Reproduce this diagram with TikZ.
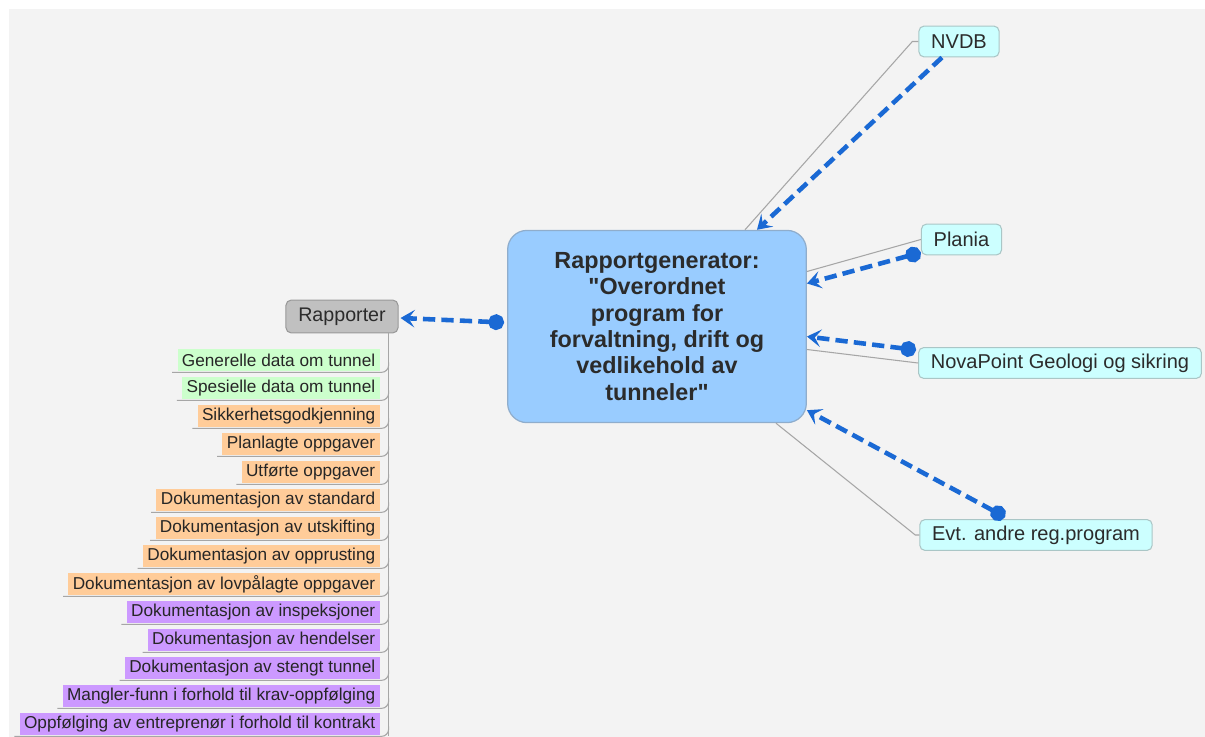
\documentclass[tikz,border=0pt]{standalone}
\usepackage{fontspec}
\setmainfont{Liberation Sans}[Ligatures=TeXOff]
\usepackage{xcolor}
\usepackage{tikz}
\usetikzlibrary{arrows.meta,calc,positioning}
\definecolor{bggray}{HTML}{F3F3F3}
\definecolor{hubblue}{HTML}{99CCFF}
\definecolor{srccyan}{HTML}{CCFFFF}
\definecolor{repgray}{HTML}{C0C0C0}
\definecolor{itemgreen}{HTML}{CCFFCC}
\definecolor{itemorange}{HTML}{FFCC99}
\definecolor{itempurple}{HTML}{CC99FF}
\definecolor{linkblue}{HTML}{1A69D4}
\definecolor{textgray}{HTML}{2B2B2B}
\tikzstyle{hub} = [draw=hubblue!60!gray, fill=hubblue, rounded corners=11pt, line width=0.7pt,
  minimum width=170pt, minimum height=109.4pt, align=center, text=textgray,
  font=\fontsize{13.3}{15}\selectfont\bfseries]
\tikzstyle{source} = [draw=srccyan!55!gray, fill=srccyan, rounded corners=3pt, line width=0.6pt,
  minimum height=17.6pt, inner xsep=7pt, text=textgray, font=\fontsize{11.4}{13}\selectfont]
\tikzstyle{report} = [draw=gray!80, fill=repgray, rounded corners=3pt, line width=0.6pt,
  minimum height=18.7pt, inner xsep=7pt, text=textgray, font=\fontsize{11.2}{13}\selectfont]
\tikzstyle{item} = [anchor=east, minimum height=12.5pt, inner xsep=2.5pt, inner ysep=0pt,
  text=black!85, font=\fontsize{9.8}{11}\selectfont]
\tikzstyle{branch} = [draw=gray!70, line width=0.6pt]
\tikzstyle{link} = [linkblue, line width=2.6pt, dash pattern=on 7pt off 3.5pt]

\begin{document}
\begin{tikzpicture}[x=0.02cm, y=-0.02cm, >={Stealth[length=8pt,width=10pt,inset=3.5pt]}]
% bakgrunn
\fill[white] (0,0) rectangle (1205,737);
\fill[bggray] (9,9) rectangle (1205,737);
\useasboundingbox (0,0) rectangle (1205,737);

% noder
\node[hub] (centre) at (657,326.5) {Rapportgenerator:\\"Overordnet\\program for\\forvaltning, drift og\\vedlikehold av\\tunneler"};
\node[report] (rapporter) at (342,316.5) {Rapporter};
\node[source] (nvdb) at (959,41.5) {NVDB};
\node[source] (plania) at (961.5,239.5) {Plania};
\node[source] (nova) at (1060,363) {NovaPoint Geologi og sikring};
\node[source] (evt) at (1036,535) {Evt. andre reg.program};

% grenene ut fra hovednoden
\draw[branch] ($(centre.north)+(88,0)$) -- ($(nvdb.west)+(-6,0)$) -- (nvdb.west);
\draw[branch] ($(centre.east)+(0,-55)$) -- (plania.west);
\draw[branch] ($(centre.east)+(0,23)$) -- (nova.west);
\draw[branch] ($(centre.south)+(119,0)$) -- ($(evt.west)+(-4,0)$) -- (evt.west);

% rapportliste
\coordinate (trunk) at ($(rapporter.south east)+(-10,0)$);
\foreach \txt/\col [count=\i] in {
  Generelle data om tunnel/itemgreen,
  Spesielle data om tunnel/itemgreen,
  Sikkerhetsgodkjenning/itemorange,
  Planlagte oppgaver/itemorange,
  Utførte oppgaver/itemorange,
  Dokumentasjon av standard/itemorange,
  Dokumentasjon av utskifting/itemorange,
  Dokumentasjon av opprusting/itemorange,
  Dokumentasjon av lovpålagte oppgaver/itemorange,
  Dokumentasjon av inspeksjoner/itempurple,
  Dokumentasjon av hendelser/itempurple,
  Dokumentasjon av stengt tunnel/itempurple,
  Mangler-funn i forhold til krav-oppfølging/itempurple,
  Oppfølging av entreprenør i forhold til kontrakt/itempurple} {
  \node[item, fill=\col] (item\i) at (380,{360+28*(\i-1)}) {\txt};
  \draw[branch, rounded corners=4pt] ($(item\i.south west)+(-5,1)$) -- ($(item\i.south -| trunk)+(0,1)$) -- ++(0,-10);
}
\draw[branch] (trunk) -- ($(trunk |- item14.south)+(0,1)$);

% datastrømmer (blå stiplede piler)
\draw[link, ->] ($(nvdb.south)+(-17,0)$) -- ($(centre.north)+(100,0)$);
\draw[link, {Circle[length=9pt]}->] ($(plania.south west)+(0,-3)$) -- ($(centre.east)+(0,-43)$);
\draw[link, {Circle[length=9pt]}->] ($(nova.west)+(-2,-13)$) -- ($(centre.east)+(0,10)$);
\draw[link, {Circle[length=9pt]}->] ($(evt.north)+(-31,-2)$) -- ($(centre.south east)+(0,-13)$);
\draw[link, {Circle[length=9pt]}->] ($(centre.west)+(-3,-4)$) -- ($(rapporter.east)+(2,1.5)$);
\end{tikzpicture}
\end{document}
